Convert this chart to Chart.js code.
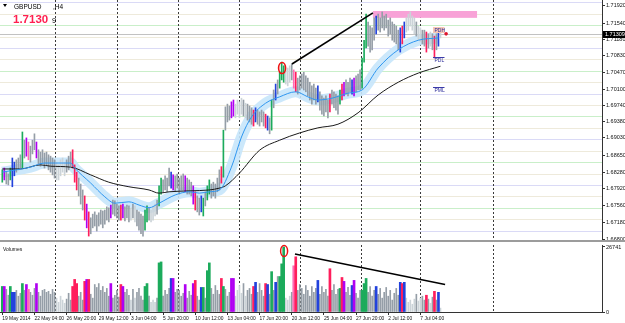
<!DOCTYPE html>
<html>
<head>
<meta charset="utf-8">
<title>GBPUSD,H4</title>
<script src="https://cdn.jsdelivr.net/npm/chart.js@4.4.1/dist/chart.umd.min.js"></script>
<style>
  html, body { margin: 0; padding: 0; background: #fff; }
  #wrap { position: relative; width: 625px; height: 323px; overflow: hidden; }
  canvas { position: absolute; left: 0; }
  #cMain { top: 0; }
  #cVol { top: 242px; }
</style>
</head>
<body>
<div id="wrap">
  <canvas id="cMain" width="625" height="242"></canvas>
  <canvas id="cVol" width="625" height="81"></canvas>
</div>
<script>
// ── Données ──────────────────────────────────────────────
const symbol = 'GBPUSD';
const timeframe = 'H4';
const lastPrice = 1.71309;

const xTickIdx = [0, 16, 32, 48, 64, 80, 96, 112, 128, 144, 160, 176, 192, 208];
const xTickLabels = ['19 May 2014', '22 May 04:00', '26 May 20:00', '29 May 12:00', '3 Jun 04:00',
  '5 Jun 20:00', '10 Jun 12:00', '13 Jun 04:00', '17 Jun 20:00', '20 Jun 12:00',
  '25 Jun 04:00', '27 Jun 20:00', '2 Jul 12:00', '7 Jul 04:00'];
const yTicks = [1.71920, 1.71540, 1.71180, 1.70830, 1.70470, 1.70100, 1.69740, 1.69380,
  1.69030, 1.68650, 1.68280, 1.67920, 1.67560, 1.67180, 1.66800];

const highs = [
  1.6833,1.6837,1.6828,1.6824,1.6837,1.6859,1.6850,1.6855,1.6859,1.6866,
  1.6916,1.6898,1.6903,1.6894,1.6885,1.6898,1.6912,1.6894,1.6877,1.6872,
  1.6877,1.6870,1.6872,1.6866,1.6863,1.6859,1.6855,1.6850,1.6844,1.6855,
  1.6859,1.6850,1.6855,1.6863,1.6872,1.6877,1.6844,1.6828,1.6815,1.6802,
  1.6789,1.6776,1.6758,1.6741,1.6728,1.6736,1.6741,1.6734,1.6739,1.6745,
  1.6743,1.6745,1.6752,1.6750,1.6756,1.6767,1.6765,1.6758,1.6754,1.6756,
  1.6758,1.6752,1.6756,1.6754,1.6750,1.6758,1.6754,1.6745,1.6741,1.6736,
  1.6732,1.6745,1.6754,1.6750,1.6745,1.6752,1.6758,1.6767,1.6798,1.6815,
  1.6811,1.6820,1.6815,1.6837,1.6828,1.6822,1.6820,1.6824,1.6815,1.6820,
  1.6824,1.6820,1.6815,1.6811,1.6806,1.6798,1.6785,1.6776,1.6771,1.6776,
  1.6771,1.6785,1.6798,1.6811,1.6802,1.6806,1.6802,1.6815,1.6833,1.6840,
  1.6920,1.6971,1.6977,1.6973,1.6982,1.6986,1.6977,1.6986,1.6982,1.6990,
  1.6986,1.6979,1.6977,1.6973,1.6969,1.6964,1.6969,1.6964,1.6960,1.6964,
  1.6960,1.6955,1.6951,1.6947,1.6986,1.7008,1.7021,1.7030,1.7047,1.7069,
  1.7061,1.7052,1.7056,1.7061,1.7065,1.7052,1.7047,1.7034,1.7039,1.7043,
  1.7047,1.7039,1.7034,1.7025,1.7017,1.7021,1.7012,1.7017,1.7004,1.6995,
  1.6990,1.6995,1.6986,1.6999,1.7008,1.7004,1.6999,1.6995,1.7008,1.7021,
  1.7025,1.7030,1.7025,1.7034,1.7030,1.7034,1.7039,1.7043,1.7052,1.7078,
  1.7117,1.7174,1.7157,1.7148,1.7144,1.7166,1.7170,1.7174,1.7166,1.7179,
  1.7170,1.7174,1.7161,1.7166,1.7157,1.7152,1.7148,1.7139,1.7144,1.7148,
  1.7157,1.7166,1.7174,1.7179,1.7170,1.7166,1.7157,1.7148,1.7144,1.7139,
  1.7139,1.7135,1.7131,1.7135,1.7131,1.7126,1.7131,1.7135,1.7133
];
const lows = [
  1.6806,1.6811,1.6802,1.6800,1.6811,1.6796,1.6820,1.6828,1.6833,1.6837,
  1.6837,1.6859,1.6863,1.6855,1.6850,1.6868,1.6877,1.6859,1.6846,1.6841,
  1.6848,1.6837,1.6844,1.6833,1.6828,1.6822,1.6815,1.6811,1.6811,1.6820,
  1.6828,1.6820,1.6828,1.6833,1.6841,1.6837,1.6806,1.6789,1.6776,1.6758,
  1.6745,1.6723,1.6706,1.6688,1.6693,1.6706,1.6710,1.6699,1.6710,1.6714,
  1.6706,1.6714,1.6723,1.6719,1.6728,1.6736,1.6732,1.6728,1.6723,1.6723,
  1.6728,1.6721,1.6728,1.6719,1.6723,1.6728,1.6719,1.6710,1.6701,1.6693,
  1.6688,1.6701,1.6719,1.6723,1.6719,1.6723,1.6732,1.6736,1.6754,1.6780,
  1.6785,1.6789,1.6785,1.6798,1.6793,1.6789,1.6785,1.6793,1.6780,1.6789,
  1.6789,1.6785,1.6780,1.6780,1.6776,1.6758,1.6745,1.6741,1.6734,1.6741,
  1.6732,1.6754,1.6767,1.6780,1.6771,1.6776,1.6771,1.6785,1.6789,1.6804,
  1.6817,1.6920,1.6938,1.6942,1.6947,1.6951,1.6947,1.6955,1.6947,1.6955,
  1.6951,1.6947,1.6942,1.6938,1.6933,1.6929,1.6938,1.6933,1.6929,1.6938,
  1.6929,1.6925,1.6920,1.6912,1.6920,1.6969,1.6986,1.6999,1.7012,1.7030,
  1.7025,1.7021,1.7017,1.7025,1.7030,1.7012,1.7004,1.6999,1.7008,1.7012,
  1.7008,1.7004,1.6995,1.6986,1.6977,1.6986,1.6977,1.6982,1.6964,1.6955,
  1.6951,1.6960,1.6947,1.6960,1.6977,1.6969,1.6964,1.6955,1.6977,1.6986,
  1.6995,1.6999,1.6995,1.7004,1.6999,1.6995,1.7004,1.7008,1.7008,1.7012,
  1.7069,1.7100,1.7104,1.7091,1.7096,1.7117,1.7131,1.7139,1.7135,1.7144,
  1.7139,1.7144,1.7126,1.7131,1.7117,1.7113,1.7109,1.7096,1.7091,1.7109,
  1.7122,1.7135,1.7139,1.7148,1.7139,1.7131,1.7126,1.7117,1.7113,1.7109,
  1.7104,1.7091,1.7100,1.7104,1.7096,1.7078,1.7096,1.7104,1.7122
];
const volumes = [
  10500,10500,9300,6900,10500,8100,8100,8900,6500,7700,
  11700,8900,11300,9300,8100,6900,9700,11700,8100,6500,
  8900,9300,8100,8500,7300,9300,8100,5700,4000,6500,
  4900,3600,5300,7700,4900,10500,13400,11700,6500,8100,
  4900,12600,13400,13400,7300,5700,11300,10100,11700,8900,
  10500,8100,9700,6500,11700,5700,6900,8900,6100,11300,
  10500,8100,9300,6900,4900,9300,5700,8100,9700,6500,
  4900,10500,11700,6500,4000,4900,4000,5700,20200,20600,
  6500,8900,7300,9700,13800,13800,8100,9300,8900,6500,
  7700,11300,5700,8500,6900,11700,13000,6500,4900,10100,
  10100,5700,17000,20200,9700,7300,10900,8900,7300,13800,
  10500,9300,6500,8100,13800,13800,6500,8900,10900,7700,
  11700,6500,8900,9700,7300,10500,12200,8100,11700,8900,
  6500,11700,11300,7300,16600,8900,12200,14600,14600,19800,
  26741,5700,4900,6500,8100,19000,22700,8900,11300,9700,
  7300,10900,8900,6500,10500,8100,9700,13000,7300,10500,
  8100,9300,6500,17800,8900,11300,7300,9300,9700,14200,
  12600,8100,10100,6900,10900,13000,7700,5700,8900,8900,
  11700,13800,8100,10500,6500,8900,10500,7300,9700,5700,
  8100,10100,6500,8900,4900,7700,9700,6900,12200,11700,
  12200,5700,4000,4900,3200,5300,7300,4500,5700,6500,
  4900,6900,5300,3600,6100,8500,4900,8100,1600
];
// couleur de chaque barre : g gris, l gris clair, G vert, R rouge, B bleu, M violet, P rose
const barCodes = (
  'GMggGBBggg' + 'GgMPgggMgg' + 'ggggggglll' + 'llgggRRRgg' + 'gRMRgggggg' +
  'ggggMggggR' + 'Mggglglggg' + 'gGGglllgGG' + 'ggggBMgggg' + 'gMgggMRggB' +
  'GgGGgggggR' + 'GgggMMllll' + 'glgggRBggg' + 'gRBgGgBgGG' + 'GlllgPRggg' +
  'gggggggBgg' + 'gggRggggGR' + 'MgggBMgggG' + 'GGggggBggg' + 'ggggggggBR' +
  'Blllllgllg' + 'gRglgRgBl'
).split('');

// moyennes mobiles (points relevés)
const fastIdx = [0,14,21,34,36,44,51,56,63,68,73,78,86,93,98,103,108,114,119,124,131,138,146,152,157,164,172,179,187,197,207,217];
const fastVals = [1.6828,1.6839,1.6848,1.6848,1.6837,1.6804,1.6774,1.6760,1.6763,1.6756,
  1.6750,1.6760,1.6778,1.6785,1.6782,1.6785,1.6789,1.6839,1.6905,1.6949,
  1.6979,1.6993,1.7004,1.6993,1.6986,1.6990,1.7001,1.7008,1.7056,1.7096,1.7117,1.7122];
const slowIdx = [0,9,19,24,34,44,53,63,73,78,83,93,103,108,111,118,128,138,148,157,167,177,187,197,207,218];
const slowVals = [1.6835,1.6835,1.6844,1.6841,1.6839,1.6822,1.6806,1.6796,1.6789,1.6782,
  1.6785,1.6787,1.6789,1.6793,1.6798,1.6826,1.6876,1.6898,1.6914,1.6925,
  1.6933,1.6958,1.6997,1.7025,1.7045,1.7060];

// niveaux ronds, séparateurs de semaine, objets dessinés
const levels100 = [1.6700, 1.6800, 1.6900, 1.7000, 1.7100, 1.7200];
const levels50 = [1.6750, 1.6850, 1.6950, 1.7050, 1.7150];
const levels25 = [1.6725, 1.6775, 1.6825, 1.6875, 1.6925, 1.6975, 1.7025, 1.7075, 1.7125, 1.7175];
const weekSeps = [26.3, 57, 87.4, 117.8, 148.2, 178.5, 208, 244.2];
const zoneIdx = [184.4, 236.2];
const zoneVals = [1.7181, 1.7166];
const priceTrendIdx = [144.1, 184.4];
const priceTrendVals = [1.7065, 1.7177];
const volTrendIdx = [145.6, 220.3];
const volTrendVals = [23900, 11300];
const peakIdx = 139.2, peakPrice = 1.7056;
const volPeakIdx = 140.2, volPeakVal = 25100;
const markerNames = ['PDH', 'PDL', 'PML'];
const markerLevels = [1.7146, 1.7080, 1.7014];
const markerIdx = [214.3, 220];
const dotIdx = 220.8;

// ── Réglages ─────────────────────────────────────────────
const X_MIN = -1.14, X_MAX = 298.36;
const Y_MIN = 1.66750, Y_MAX = 1.72051;
const VOL_MAX = 27560;
const FONT = '"Liberation Sans", Arial, sans-serif';
Chart.defaults.font.family = FONT;
Chart.defaults.color = '#111';

const colorOf = { g: '#959ea7', l: '#cbd3d8', G: '#1cab5c', R: '#ff1e5c', B: '#2242dc', M: '#b000f2', P: '#ff6cb6' };

const fastPts = fastIdx.map((x, i) => ({ x, y: fastVals[i] }));
const slowPts = slowIdx.map((x, i) => ({ x, y: slowVals[i] }));
const priceBars = highs.map((h, i) => ({ x: i, y: [lows[i], h] }));

// ── Décor de la fenêtre principale ───────────────────────
const mainDecor = {
  id: 'mainDecor',
  beforeDatasetsDraw(chart) {
    const { ctx, chartArea: a, scales: { x, y } } = chart;
    ctx.save();
    const hLine = (v, col) => {
      const yy = Math.round(y.getPixelForValue(v)) + 0.5;
      ctx.strokeStyle = col; ctx.lineWidth = 1;
      ctx.beginPath(); ctx.moveTo(a.left, yy); ctx.lineTo(a.right, yy); ctx.stroke();
    };
    levels25.forEach(v => hLine(v, '#eeeadb'));
    levels50.forEach(v => hLine(v, '#c9efc9'));
    levels100.forEach(v => hLine(v, '#dadaf6'));
    hLine(lastPrice, '#c2c2c2');

    ctx.strokeStyle = '#3a3a3a'; ctx.setLineDash([2, 2]);
    weekSeps.forEach(i => {
      const xx = Math.round(x.getPixelForValue(i)) + 0.5;
      ctx.beginPath(); ctx.moveTo(xx, a.top); ctx.lineTo(xx, a.bottom); ctx.stroke();
    });
    ctx.setLineDash([]);

    const zx1 = x.getPixelForValue(zoneIdx[0]), zx2 = x.getPixelForValue(zoneIdx[1]);
    const zy1 = y.getPixelForValue(zoneVals[0]), zy2 = y.getPixelForValue(zoneVals[1]);
    ctx.fillStyle = '#f8a2d7';
    ctx.fillRect(zx1, zy1, zx2 - zx1, zy2 - zy1);
    ctx.restore();
  },
  afterDatasetsDraw(chart) {
    const { ctx, scales: { x, y } } = chart;
    ctx.save();
    ctx.strokeStyle = '#000'; ctx.lineWidth = 1.6;
    ctx.beginPath();
    ctx.moveTo(x.getPixelForValue(priceTrendIdx[0]), y.getPixelForValue(priceTrendVals[0]));
    ctx.lineTo(x.getPixelForValue(priceTrendIdx[1]), y.getPixelForValue(priceTrendVals[1]));
    ctx.stroke();

    ctx.strokeStyle = '#ee1111'; ctx.lineWidth = 1.6;
    ctx.beginPath();
    ctx.ellipse(x.getPixelForValue(peakIdx), y.getPixelForValue(peakPrice), 3.5, 5.5, 0, 0, Math.PI * 2);
    ctx.stroke();

    ctx.font = '5px ' + FONT; ctx.textBaseline = 'middle'; ctx.textAlign = 'left';
    const mx1 = x.getPixelForValue(markerIdx[0]), mx2 = x.getPixelForValue(markerIdx[1]);
    markerNames.forEach((n, k) => {
      const my = Math.round(y.getPixelForValue(markerLevels[k])) + 0.5;
      if (k === 0) {
        ctx.fillStyle = '#f6c6b4'; ctx.fillRect(mx1, my - 0.5, mx2 - mx1, 6);
      } else {
        ctx.strokeStyle = '#3b3ba8'; ctx.lineWidth = 1;
        ctx.beginPath(); ctx.moveTo(mx1, my); ctx.lineTo(mx2, my); ctx.stroke();
      }
      ctx.fillStyle = '#2c2c9a'; ctx.fillText(n, mx1 + 1.5, my + 3.2);
    });

    ctx.fillStyle = '#e0142c';
    ctx.beginPath(); ctx.arc(x.getPixelForValue(dotIdx), y.getPixelForValue(lastPrice), 1.8, 0, Math.PI * 2); ctx.fill();
    ctx.restore();
  },
  afterDraw(chart) {
    const { ctx, chartArea: a, scales: { y } } = chart;
    ctx.save();
    ctx.fillStyle = '#000';
    ctx.beginPath(); ctx.moveTo(3, 4); ctx.lineTo(7, 4); ctx.lineTo(5, 7); ctx.closePath(); ctx.fill();
    ctx.textBaseline = 'middle'; ctx.textAlign = 'left';
    ctx.font = '6.5px ' + FONT;
    ctx.fillText(symbol, 14, 7.5);
    ctx.fillText(',' + timeframe, 53, 7.5);
    const ps = lastPrice.toFixed(5);
    ctx.font = 'bold 11.5px ' + FONT; ctx.fillStyle = '#ff1f4f';
    ctx.fillText(ps.slice(0, -1), 13, 20);
    ctx.font = '7.5px ' + FONT; ctx.fillStyle = '#000';
    ctx.fillText(ps.slice(-1), 52, 20.5);

    const py = Math.round(y.getPixelForValue(lastPrice));
    ctx.fillStyle = '#000'; ctx.fillRect(a.right + 1, py - 3, 22, 7);
    ctx.fillStyle = '#fff'; ctx.font = '5.5px ' + FONT;
    ctx.fillText(ps, a.right + 3, py + 0.5);

    ctx.fillStyle = '#9c9c9c'; ctx.fillRect(0, chart.height - 2, chart.width, 2);
    ctx.restore();
  }
};

// ── Graphique des prix ───────────────────────────────────
new Chart(document.getElementById('cMain'), {
  type: 'bar',
  data: {
    datasets: [
      { type: 'line', label: 'MA rapide', data: fastPts, borderColor: '#2e96f0', borderWidth: 1,
        pointRadius: 0, cubicInterpolationMode: 'monotone', order: 1 },
      { type: 'line', label: 'MA lente', data: slowPts, borderColor: '#1a1a1a', borderWidth: 1,
        pointRadius: 0, cubicInterpolationMode: 'monotone', order: 1 },
      { label: symbol, data: priceBars, backgroundColor: barCodes.map(c => colorOf[c]),
        barThickness: 1, order: 2 },
      { type: 'line', label: 'Bande', data: fastPts, borderColor: 'rgba(198,229,251,0.9)', borderWidth: 11,
        pointRadius: 0, cubicInterpolationMode: 'monotone', order: 3 }
    ]
  },
  options: {
    responsive: false, animation: false, devicePixelRatio: 1,
    layout: { padding: 0 },
    plugins: { legend: { display: false }, tooltip: { enabled: false } },
    scales: {
      x: { type: 'linear', min: X_MIN, max: X_MAX, offset: false, display: false },
      y: {
        type: 'linear', position: 'right', min: Y_MIN, max: Y_MAX,
        afterBuildTicks: s => { s.ticks = yTicks.map(v => ({ value: v })); },
        afterFit: s => { s.width = 23; s.paddingTop = 0; s.paddingBottom = 0; },
        ticks: { autoSkip: false, font: { size: 5.5 }, padding: 1, callback: v => v.toFixed(5) },
        grid: { drawOnChartArea: false, tickLength: 3, color: '#333' },
        border: { color: '#333' }
      }
    }
  },
  plugins: [mainDecor]
});

// ── Volumes ──────────────────────────────────────────────
const grayVol = [], colVol = [];
volumes.forEach((v, i) => {
  const c = barCodes[i];
  (c === 'g' || c === 'l' ? grayVol : colVol).push({ x: i, y: v, c });
});
const volTop = Math.max(...volumes);

const volDecor = {
  id: 'volDecor',
  beforeDatasetsDraw(chart) {
    const { ctx, chartArea: a, scales: { x } } = chart;
    ctx.save();
    ctx.strokeStyle = '#3a3a3a'; ctx.lineWidth = 1; ctx.setLineDash([2, 2]);
    weekSeps.forEach(i => {
      const xx = Math.round(x.getPixelForValue(i)) + 0.5;
      ctx.beginPath(); ctx.moveTo(xx, a.top); ctx.lineTo(xx, a.bottom); ctx.stroke();
    });
    ctx.restore();
  },
  afterDatasetsDraw(chart) {
    const { ctx, scales: { x, y } } = chart;
    ctx.save();
    ctx.strokeStyle = '#000'; ctx.lineWidth = 1.5;
    ctx.beginPath();
    ctx.moveTo(x.getPixelForValue(volTrendIdx[0]), y.getPixelForValue(volTrendVals[0]));
    ctx.lineTo(x.getPixelForValue(volTrendIdx[1]), y.getPixelForValue(volTrendVals[1]));
    ctx.stroke();
    ctx.strokeStyle = '#ee1111'; ctx.lineWidth = 1.5;
    ctx.beginPath();
    ctx.ellipse(x.getPixelForValue(volPeakIdx), y.getPixelForValue(volPeakVal), 3.5, 5.5, 0, 0, Math.PI * 2);
    ctx.stroke();
    ctx.restore();
  },
  afterDraw(chart) {
    const { ctx } = chart;
    ctx.save();
    ctx.font = '5px ' + FONT; ctx.fillStyle = '#111'; ctx.textBaseline = 'middle';
    ctx.fillText('Volumes', 3, 8);
    ctx.restore();
  }
};

new Chart(document.getElementById('cVol'), {
  type: 'bar',
  data: {
    datasets: [
      { label: 'Volumes', data: colVol, backgroundColor: ctx => colorOf[ctx.raw ? ctx.raw.c : 'g'],
        barThickness: 2, grouped: false, order: 1 },
      { label: 'Volumes gris', data: grayVol, backgroundColor: ctx => colorOf[ctx.raw ? ctx.raw.c : 'g'],
        barThickness: 1, grouped: false, order: 2 }
    ]
  },
  options: {
    responsive: false, animation: false, devicePixelRatio: 1,
    layout: { padding: { top: 3 } },
    plugins: { legend: { display: false }, tooltip: { enabled: false } },
    scales: {
      x: {
        type: 'linear', min: X_MIN, max: X_MAX, offset: false, position: 'bottom',
        afterBuildTicks: s => { s.ticks = xTickIdx.map(v => ({ value: v })); },
        afterFit: s => { s.height = 11; s.paddingLeft = 0; s.paddingRight = 0; },
        ticks: { autoSkip: false, maxRotation: 0, minRotation: 0, align: 'start',
          font: { size: 4.9 }, padding: 1, callback: (v, i) => xTickLabels[i] },
        grid: { offset: false, drawOnChartArea: false, tickLength: 3, color: '#333' },
        border: { color: '#333' }
      },
      y: {
        type: 'linear', position: 'right', min: 0, max: VOL_MAX,
        afterBuildTicks: s => { s.ticks = [{ value: 0 }, { value: volTop }]; },
        afterFit: s => { s.width = 23; s.paddingTop = 0; s.paddingBottom = 0; },
        ticks: { autoSkip: false, font: { size: 5.5 }, padding: 1, callback: v => String(v) },
        grid: { drawOnChartArea: false, tickLength: 3, color: '#333' },
        border: { color: '#333' }
      }
    }
  },
  plugins: [volDecor]
});
</script>
</body>
</html>
